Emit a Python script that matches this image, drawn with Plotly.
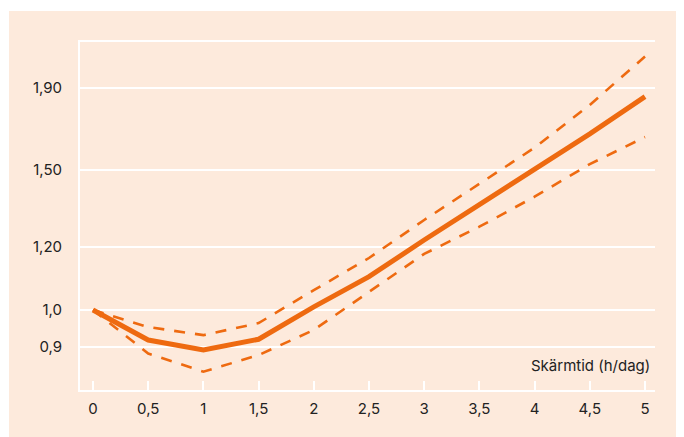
import plotly.graph_objects as go

x_hours = [0, 0.5, 1, 1.5, 2, 2.5, 3, 3.5, 4, 4.5, 5]
estimate = [1.0, 0.917, 0.891, 0.919, 1.009, 1.101, 1.224, 1.354, 1.502, 1.663, 1.852]
upper_ci = [1.0, 0.952, 0.930, 0.963, 1.059, 1.162, 1.297, 1.440, 1.598, 1.808, 2.079]
lower_ci = [1.0, 0.882, 0.837, 0.878, 0.944, 1.054, 1.176, 1.272, 1.387, 1.524, 1.648]

x_tickvals = [0, 0.5, 1, 1.5, 2, 2.5, 3, 3.5, 4, 4.5, 5]
x_ticktext = ["0", "0,5", "1", "1,5", "2", "2,5", "3", "3,5", "4", "4,5", "5"]
y_tickvals = [0.9, 1.0, 1.2, 1.5, 1.9]
y_ticktext = ["0,9", "1,0", "1,20", "1,50", "1,90"]

ORANGE = "#EE6A10"
BEIGE = "#FDEADC"
TXT = "#222222"
FONT = "Inter"
FS = 15

# page has an 8px body margin; figure sized to fit the window
OFF = 8
W, H = 684 - OFF, 437 - OFF
L, T = 80 - OFF, 42 - OFF
R = W - (655 - OFF)
B = H - (390 - OFF)
pw = W - L - R
ph = H - T - B

fig = go.Figure()
fig.add_trace(go.Scatter(x=x_hours, y=upper_ci, mode="lines",
                         line=dict(color=ORANGE, width=2.6, dash="11px,10px")))
fig.add_trace(go.Scatter(x=x_hours, y=lower_ci, mode="lines",
                         line=dict(color=ORANGE, width=2.6, dash="11px,10px")))
fig.add_trace(go.Scatter(x=x_hours, y=estimate, mode="lines",
                         line=dict(color=ORANGE, width=5)))

fig.add_shape(type="rect", xref="paper", yref="paper", layer="below",
              x0=(1 - L) / pw, x1=(W - L) / pw,
              y0=-B / ph, y1=(H - B - 3) / ph,
              fillcolor=BEIGE, line=dict(width=0))

fig.add_annotation(text="Skärmtid (h/dag)", xref="paper", yref="paper",
                   x=(652 - 80) / pw, y=(390 - 365) / ph, xanchor="right", yanchor="middle",
                   showarrow=False, font=dict(family=FONT, size=FS, color=TXT))

fig.update_layout(
    width=W, height=H,
    margin=dict(l=L, r=R, t=T, b=B, pad=0),
    paper_bgcolor="white",
    plot_bgcolor="rgba(0,0,0,0)",
    showlegend=False,
    font=dict(family=FONT, size=FS, color=TXT),
)
fig.update_xaxes(
    range=[-0.1178, 5.0906],
    tickvals=x_tickvals, ticktext=x_ticktext,
    showgrid=False, zeroline=False,
    showline=True, linecolor="white", linewidth=2, mirror=True,
    ticks="inside", ticklen=9, tickwidth=2, tickcolor="white",
    ticklabelstandoff=4,
    tickfont=dict(family=FONT, size=FS, color=TXT),
)
fig.update_yaxes(
    type="log", range=[-0.1003, 0.3361],
    tickvals=y_tickvals, ticktext=y_ticktext,
    showgrid=True, gridcolor="white", gridwidth=2,
    zeroline=False,
    showline=True, linecolor="white", linewidth=2,
    ticks="", ticklabelstandoff=13,
    tickfont=dict(family=FONT, size=FS, color=TXT),
)

fig.write_html("out.html")
